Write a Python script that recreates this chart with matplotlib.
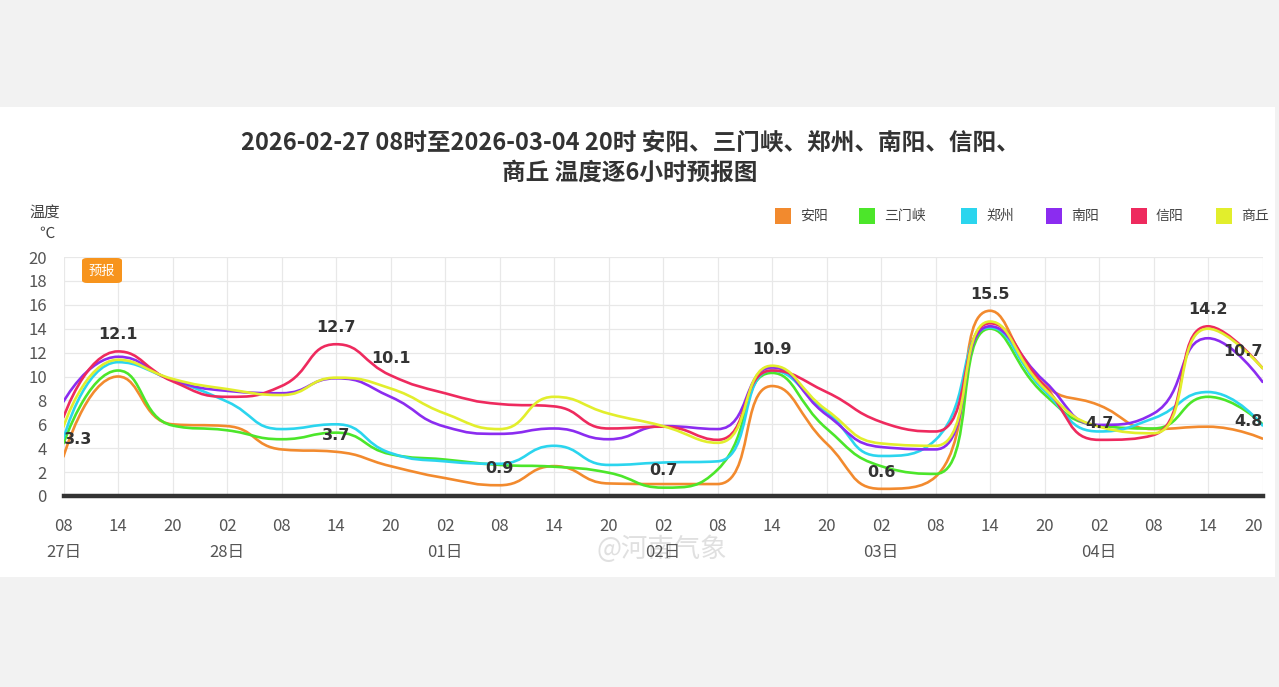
import matplotlib
matplotlib.use("Agg")
import matplotlib.pyplot as plt
from matplotlib.path import Path
from matplotlib.patches import PathPatch, Rectangle, FancyBboxPatch

plt.rcParams['font.family'] = ['Noto Sans CJK SC', 'DejaVu Sans']

hours = ['08', '14', '20', '02', '08', '14', '20', '02', '08', '14', '20', '02',
         '08', '14', '20', '02', '08', '14', '20', '02', '08', '14', '20']
days = {0: '27日', 3: '28日', 7: '01日', 11: '02日', 15: '03日', 19: '04日'}

cities = ['安阳', '三门峡', '郑州', '南阳', '信阳', '商丘']
colors = ['#F28A2E', '#4CE62A', '#2BD5EE', '#8B2CF0', '#EE2A5E', '#E2EE2C']

anyang = [3.3, 10.0, 6.0, 5.85, 3.9, 3.7, 2.5, 1.5, 0.9, 2.5, 1.05, 1.0,
          1.0, 9.2, 4.4, 0.6, 1.6, 15.5, 9.3, 7.6, 5.6, 5.8, 4.8]
sanmenxia = [4.4, 10.5, 5.9, 5.5, 4.75, 5.3, 3.5, 3.05, 2.6, 2.45, 1.95, 0.7,
             2.2, 10.3, 5.65, 2.5, 1.85, 14.0, 8.5, 5.9, 5.65, 8.3, 6.0]
zhengzhou = [4.8, 11.2, 9.7, 7.9, 5.6, 6.0, 3.6, 2.9, 2.7, 4.2, 2.6, 2.8,
             2.9, 10.5, 7.05, 3.35, 4.7, 14.1, 8.8, 5.4, 6.5, 8.7, 5.9]
nanyang = [7.9, 11.65, 9.7, 8.8, 8.6, 9.85, 8.3, 5.8, 5.2, 5.65, 4.75, 5.85,
           5.6, 10.75, 6.8, 4.1, 3.9, 14.2, 9.6, 5.95, 6.9, 13.2, 9.55]
xinyang = [6.6, 12.1, 9.6, 8.3, 9.2, 12.7, 10.1, 8.6, 7.7, 7.5, 5.65, 5.8,
           4.7, 10.5, 8.7, 6.2, 5.4, 14.45, 9.2, 4.7, 5.1, 14.2, 10.7]
shangqiu = [5.8, 11.4, 9.8, 8.95, 8.45, 9.9, 9.0, 6.9, 5.6, 8.3, 6.9, 5.85,
            4.45, 10.9, 7.2, 4.4, 4.2, 14.6, 9.0, 5.8, 5.25, 14.0, 10.7]
series = [anyang, sanmenxia, zhengzhou, nanyang, xinyang, shangqiu]

# (series index, point index) of the labelled values
marks = [(0, 0), (4, 1), (4, 5), (4, 6), (0, 5), (0, 8), (1, 11), (5, 13),
         (0, 15), (0, 17), (4, 19), (4, 21), (5, 22), (0, 22)]

title = '2026-02-27 08时至2026-03-04 20时 安阳、三门峡、郑州、南阳、信阳、\n商丘 温度逐6小时预报图'


def clamp(v, a, b):
    return max(min(v, max(a, b)), min(a, b))


def smooth_path(xs, ys, sx, sy, smooth=0.5):
    # bezier through the points with control points kept inside each segment
    px = [v * sx for v in xs]
    py = [v * sy for v in ys]
    n = len(px)
    cp_in = [None] * n
    cp_out = [None] * n
    for i in range(n):
        x, y = px[i], py[i]
        pvx, pvy = (px[i - 1], py[i - 1]) if i > 0 else (x, y)
        nx, ny = (px[i + 1], py[i + 1]) if i < n - 1 else (x, y)
        vx, vy = nx - pvx, ny - pvy
        lp = ((x - pvx) ** 2 + (y - pvy) ** 2) ** 0.5
        ln = ((nx - x) ** 2 + (ny - y) ** 2) ** 0.5
        if lp == 0 or ln == 0:
            cp_in[i] = (x, y)
            cp_out[i] = (x, y)
            continue
        r = ln / (ln + lp)
        ox = clamp(x + vx * smooth * r, x, nx)
        oy = clamp(y + vy * smooth * r, y, ny)
        ix = clamp(x - (ox - x) * lp / ln, pvx, x)
        iy = clamp(y - (oy - y) * lp / ln, pvy, y)
        ox = x + (x - ix) * ln / lp
        oy = y + (y - iy) * ln / lp
        cp_in[i] = (ix, iy)
        cp_out[i] = (ox, oy)
    verts = [(px[0], py[0])]
    codes = [Path.MOVETO]
    for i in range(n - 1):
        verts += [cp_out[i], cp_in[i + 1], (px[i + 1], py[i + 1])]
        codes += [Path.CURVE4] * 3
    verts = [(a / sx, b / sy) for a, b in verts]
    return Path(verts, codes)


W, H = 1279, 687
fig = plt.figure(figsize=(W / 100, H / 100), dpi=100)
fig.set_facecolor('#f2f2f2')
fig.patches.append(Rectangle((0, 1 - 577 / H), 1275 / W, (577 - 107) / H,
                             transform=fig.transFigure, facecolor='white',
                             edgecolor='none', zorder=-5))

ax = fig.add_axes([63.5 / W, 1 - 496 / H, (1262.5 - 63.5) / W, (496 - 257) / H])
ax.set_facecolor('white')
x = list(range(len(hours)))
ax.set_xlim(0, len(hours) - 1)
ax.set_ylim(0, 20)
for s in ax.spines.values():
    s.set_visible(False)
ax.set_xticks(x)
ax.set_yticks(range(0, 21, 2))
ax.grid(True, color='#e8e8e8', linewidth=0.9, zorder=0)
ax.axhline(0, color='#333333', linewidth=3.2, zorder=5, clip_on=False)

xlabels = [h + ('\n' + days[i] if i in days else '') for i, h in enumerate(hours)]
ax.set_xticklabels(xlabels, linespacing=1.75, va='top')
ax.tick_params(axis='x', length=0, pad=15.5, labelsize=12, labelcolor='#555555')
ax.tick_params(axis='y', length=0, pad=12, labelsize=12, labelcolor='#555555')
ax.get_xticklabels()[-1].set_horizontalalignment('right')

sx = 1199 / 22
sy = 239 / 20
for ys, c in zip(series, colors):
    ax.add_patch(PathPatch(smooth_path(x, ys, sx, sy), facecolor='none',
                           edgecolor=c, linewidth=1.9, zorder=3,
                           capstyle='round'))

for si, pi in marks:
    v = series[si][pi]
    ha = 'center'
    if pi == 0:
        ha = 'left'
    elif pi == len(hours) - 1:
        ha = 'right'
    ax.annotate(f'{v:.1f}', (pi, v), xytext=(0, 12), textcoords='offset points',
                ha=ha, va='center', fontsize=11.5, fontweight='bold',
                color='#333333', zorder=6, family='DejaVu Sans')

# forecast badge
ax.add_patch(FancyBboxPatch((82 / W, 1 - 283 / H), 40 / W, 25 / H,
                            boxstyle='round,pad=0,rounding_size=0.004',
                            transform=fig.transFigure, facecolor='#F7941D',
                            edgecolor='none', zorder=7, clip_on=False))
fig.text(102 / W, 1 - 271 / H, '预报', color='white', fontsize=9.5,
         ha='center', va='center', zorder=8)

fig.text(630 / W, 1 - 158 / H, title, ha='center', va='center', fontsize=17,
         fontweight='bold', color='#333333', linespacing=1.3)

fig.text(45 / W, 1 - 212 / H, '温度', ha='center', va='center', fontsize=11,
         color='#444444')
fig.text(47 / W, 1 - 233 / H, '℃', ha='center', va='center', fontsize=11,
         color='#444444')

# legend
lx = [775, 859, 961, 1046, 1131, 1216]
for px, name, c in zip(lx, cities, colors):
    fig.patches.append(Rectangle((px / W, 1 - 224 / H), 16 / W, 16 / H,
                                 transform=fig.transFigure, facecolor=c,
                                 edgecolor='none'))
    fig.text((px + 25) / W, 1 - 216 / H, name, ha='left', va='center',
             fontsize=10, color='#444444')

fig.text(662 / W, 1 - 549 / H, '@河南气象', ha='center', va='center',
         fontsize=19, color='#e0e0e0', zorder=-1)

fig.savefig('out.png', dpi=100)
